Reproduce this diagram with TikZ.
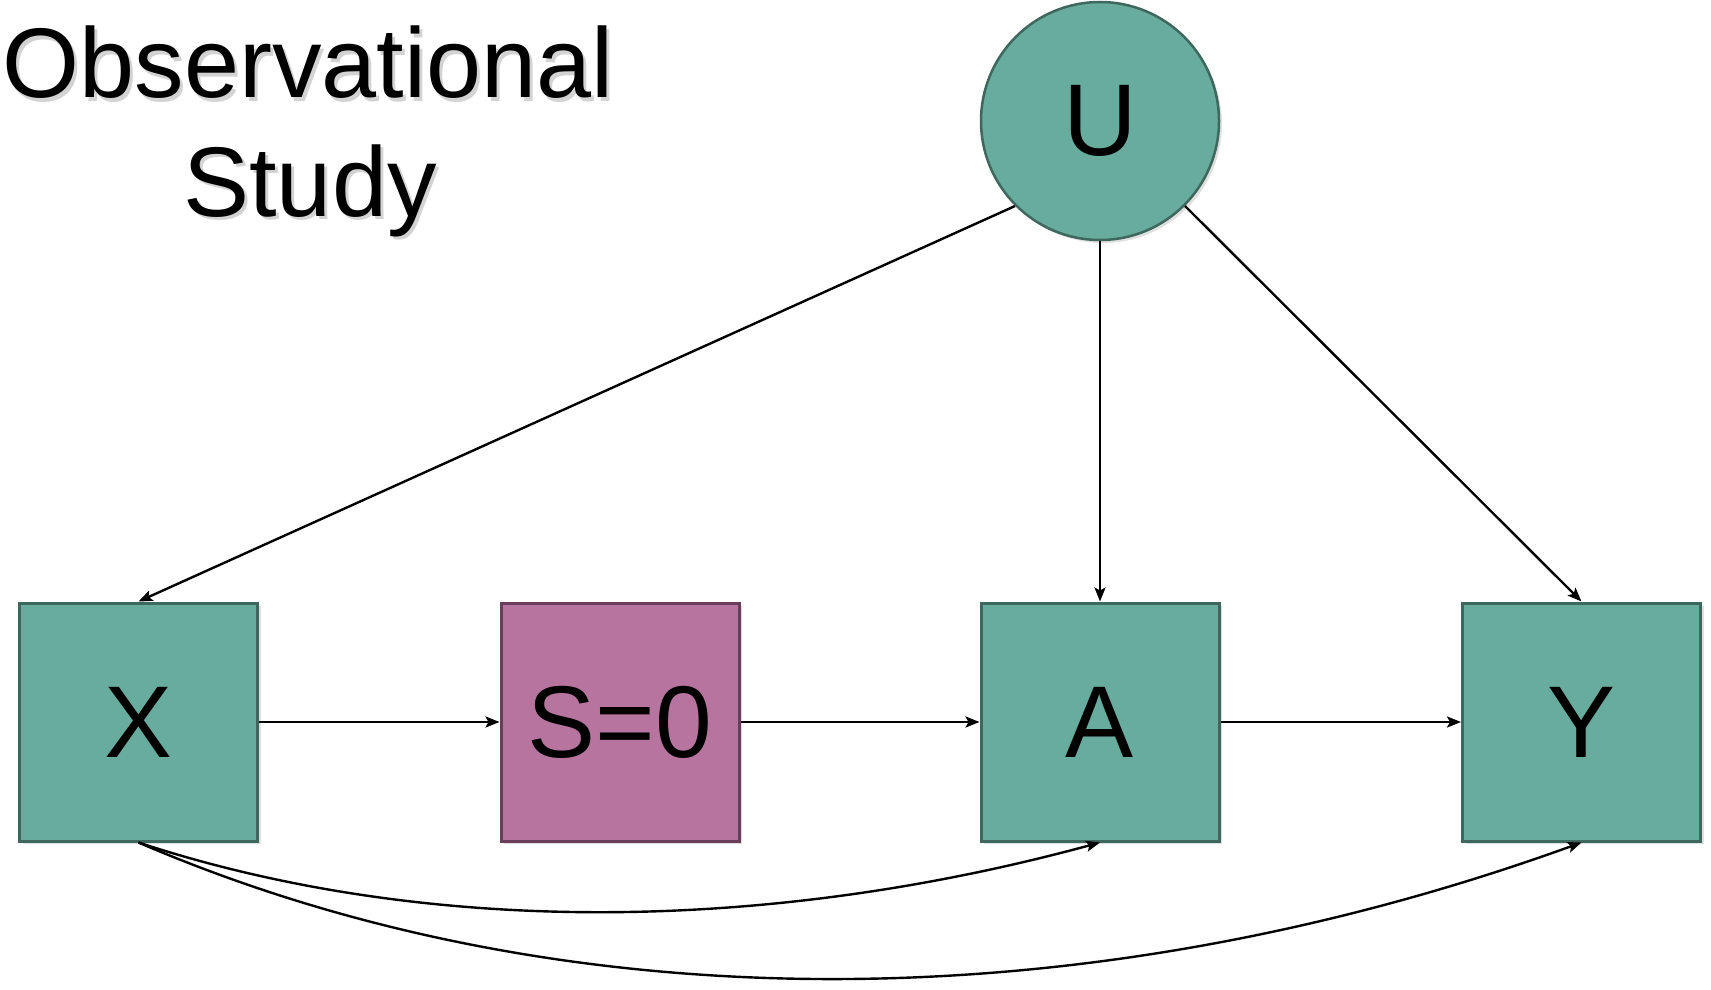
\documentclass[tikz,border=0pt]{standalone}
\usepackage{fontspec}
\setmainfont{Liberation Sans}
\usetikzlibrary{arrows.meta,shadows}
\definecolor{tealfill}{RGB}{104,172,158}
\definecolor{tealline}{RGB}{62,104,94}
\definecolor{purpfill}{RGB}{183,116,158}
\definecolor{purpline}{RGB}{104,62,90}
\tikzset{
  bigfont/.style={font=\fontsize{102}{118}\selectfont},
  varbox/.style={rectangle, draw=tealline, fill=tealfill, line width=3pt,
    minimum width=238pt, minimum height=238pt, inner sep=0pt, bigfont,
    drop shadow={shadow xshift=3pt, shadow yshift=-3pt, opacity=0.25, fill=gray}},
  selbox/.style={varbox, draw=purpline, fill=purpfill},
  latent/.style={circle, draw=tealline, fill=tealfill, line width=2.5pt,
    minimum size=238pt, inner sep=0pt, bigfont,
    drop shadow={shadow xshift=3pt, shadow yshift=-3pt, opacity=0.25, fill=gray}},
  arr/.style={line width=2.4pt, -{Stealth[length=14pt,width=11pt,inset=3pt]}},
  titletext/.style={font=\fontsize{99}{118}\selectfont, inner sep=0pt, anchor=base},
  titleshadow/.style={titletext, text=gray, opacity=0.35}
}
\begin{document}
\begin{tikzpicture}[x=1pt,y=-1pt]
\useasboundingbox (0,0) rectangle (1711,990);
% title with soft shadow
\node[titleshadow] (t1s) at (311,101) {Observational};
\node[titleshadow] (t2s) at (313,219) {Study};
\node[titletext] (t1) at (308,98) {Observational};
\node[titletext] (t2) at (310,216) {Study};
% nodes
\node[latent] (U) at (1100,121) {U};
\node[varbox] (X) at (138.5,722) {X};
\node[selbox] (S) at (620,722) {S=0};
\node[varbox] (A) at (1100,722) {A};
\node[varbox] (Y) at (1581.5,722) {Y};
% edges
\draw[arr] (U.south west) -- (X.north);
\draw[arr] (U.south) -- (A.north);
\draw[arr] (U.south east) -- (Y.north);
\draw[arr] (X.east) -- (S.west);
\draw[arr] (S.east) -- (A.west);
\draw[arr] (A.east) -- (Y.west);
\draw[arr] (X.south) .. controls (420,935) and (760,935) .. (A.south);
\draw[arr] (X.south) .. controls (560,1024) and (1080,1024) .. (Y.south);
\end{tikzpicture}
\end{document}
